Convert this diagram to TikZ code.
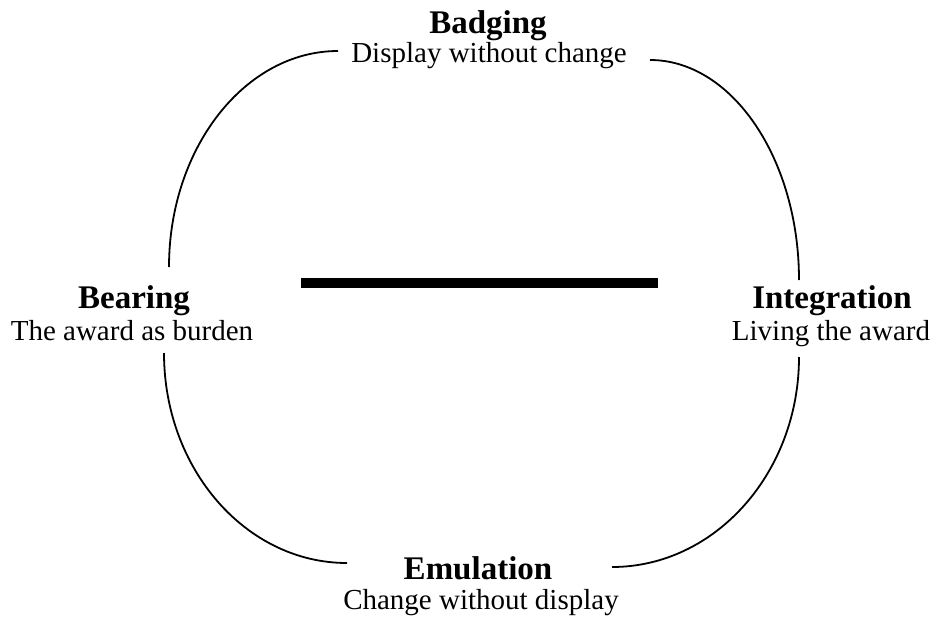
\documentclass[tikz,border=0pt]{standalone}
\usepackage{fontspec}
\setmainfont{Liberation Serif}
\begin{document}
\begin{tikzpicture}[x=1pt,y=-1pt,
  title/.style={font=\fontsize{33}{36}\selectfont\bfseries, inner sep=0pt, anchor=base},
  sub/.style={font=\fontsize{29}{33}\selectfont, inner sep=0pt, anchor=base},
  arcline/.style={line width=1.8pt},
  bar/.style={line width=9.5pt}]
\useasboundingbox (0,0) rectangle (934,621);
% labels
\node[title] (bt) at (488,33) {Badging};
\node[sub] (bs) at (489,62) {Display without change};
\node[title] (lt) at (134,308) {Bearing};
\node[sub] (ls) at (132,340) {The award as burden};
\node[title] (rt) at (832,308) {Integration};
\node[sub] (rs) at (831,340) {Living the award};
\node[title] (et) at (478,579) {Emulation};
\node[sub] (es) at (481,609) {Change without display};
% arc end points
\coordinate (a1) at (169,267);
\coordinate (a2) at (338,51);
\coordinate (b1) at (650,60);
\coordinate (b2) at (799,280);
\coordinate (c1) at (164,353);
\coordinate (c2) at (347,563);
\coordinate (d1) at (799,357);
\coordinate (d2) at (612,567);
\draw[arcline] (a1) .. controls (169,148) and (245,51) .. (a2);
\draw[arcline] (b1) .. controls (732,60) and (799,159) .. (b2);
\draw[arcline] (c1) .. controls (164,469) and (246,563) .. (c2);
\draw[arcline] (d1) .. controls (799,473) and (715,567) .. (d2);
% bar
\coordinate (p1) at (301,283);
\coordinate (p2) at (658,283);
\draw[bar] (p1) -- (p2);
\end{tikzpicture}
\end{document}
